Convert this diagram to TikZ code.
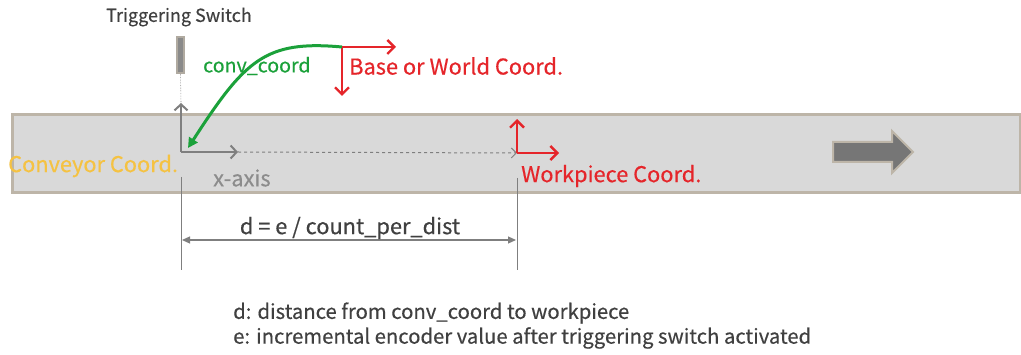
\documentclass[tikz,border=0pt]{standalone}
\usepackage{fontspec}
\newfontfamily\ssf[FakeBold=0.4]{Noto Sans CJK SC}
\usetikzlibrary{arrows.meta}
\definecolor{convfill}{HTML}{D9D9D9}
\definecolor{convborder}{HTML}{BDB5A8}
\definecolor{axgray}{HTML}{7F7F7F}
\definecolor{txtgray}{HTML}{404040}
\definecolor{lblgray}{HTML}{8C8C8C}
\definecolor{cred}{HTML}{E5252A}
\definecolor{cgreen}{HTML}{1BA13A}
\definecolor{cyell}{HTML}{F5C242}
\definecolor{swfill}{HTML}{8A8A8A}
\definecolor{swborder}{HTML}{B0AAA0}
\definecolor{bigarrow}{HTML}{767676}
\tikzset{
  lbl/.style={inner sep=0pt, font=\ssf\fontsize{21.8}{24}\selectfont},
  note/.style={inner sep=0pt, font=\ssf\fontsize{20.3}{24}\selectfont, text=txtgray, anchor=west},
  grayaxis/.style={draw=axgray, line width=2pt, -{Straight Barb[length=6pt,width=13pt]}},
  redaxis/.style={draw=cred, line width=2.4pt, -{Straight Barb[length=7pt,width=14pt]}},
  extline/.style={draw=axgray, line width=1pt},
}
\begin{document}
\begin{tikzpicture}[x=1pt,y=-1pt]
\useasboundingbox (0,0) rectangle (1021,355);
\fill[white] (0,0) rectangle (1021,355);
% conveyor
\node[draw=convborder, fill=convfill, line width=3pt, inner sep=0pt,
      minimum width=1008pt, minimum height=78pt] (conveyor) at (516,154) {};
% big direction arrow
\filldraw[fill=bigarrow, draw=convborder, line width=2pt]
  (833,142) -- (892,142) -- (892,131) -- (913,152) -- (892,173) -- (892,162) -- (833,162) -- cycle;
% switch
\node[inner sep=0pt, font=\ssf\fontsize{18}{20}\selectfont, text=txtgray] (trig) at (179,17) {Triggering Switch};
\node[draw=swborder, fill=swfill, line width=2pt, inner sep=0pt,
      minimum width=7pt, minimum height=36pt] (switch) at (180.5,55) {};
% coordinates
\coordinate (co) at (181,152);
\coordinate (coy) at (181,103);
\coordinate (cox) at (238,152);
\coordinate (wo) at (517,153);
\coordinate (woy) at (517,119);
\coordinate (wox) at (559,153);
\coordinate (bo) at (342,47);
\coordinate (box) at (396,47);
\coordinate (boy) at (342,96);
\draw[draw=lblgray, line width=0.6pt, densely dotted] (switch.south) -- (coy);
% conveyor axes
\draw[grayaxis] (co) -- (coy);
\draw[grayaxis] (co) -- (cox);
\draw[draw=axgray, line width=1pt, dashed, -{Straight Barb[length=5pt,width=10pt]}] (cox) -- (wo);
% workpiece axes
\draw[redaxis] (wo) -- (woy);
\draw[redaxis] (wo) -- (wox);
% base axes
\draw[redaxis] (bo) -- (box);
\draw[redaxis] (bo) -- (boy);
% green curve
\draw[draw=cgreen, line width=3pt, -{Triangle[length=10pt,width=10pt]}]
  (bo) .. controls (265,40) and (245,60) .. (188,148);
% labels
\node[inner sep=0pt, font=\ssf\fontsize{19.6}{22}\selectfont, text=cgreen, anchor=west] (convlbl) at (203,66) {conv\_coord};
\node[lbl, text=cred, anchor=west] (baselbl) at (349,66) {Base or World Coord.};
\node[lbl, text=cyell, anchor=west] (cclbl) at (8,166) {Conveyor Coord.};
\node[lbl, text=lblgray, anchor=west] (xlbl) at (213,178) {x-axis};
\node[lbl, text=cred, anchor=west] (wplbl) at (521,176) {Workpiece Coord.};
% dimension
\coordinate (e1t) at (181,177);
\coordinate (e1b) at (181,270);
\coordinate (e2t) at (517,178);
\coordinate (e2b) at (517,270);
\draw[extline] (e1t) -- (e1b);
\draw[extline] (e2t) -- (e2b);
\coordinate (d1) at (182,240);
\coordinate (d2) at (516,240);
\draw[draw=axgray, line width=1.2pt, {Triangle[length=8pt,width=7pt]}-{Triangle[length=8pt,width=7pt]}] (d1) -- (d2);
\node[lbl, text=txtgray] (dlbl) at (350,228) {d = e / count\_per\_dist};
% notes
\node[note] (note1) at (233,313) {d: distance from conv\_coord to workpiece};
\node[note] (note2) at (233,338) {e: incremental encoder value after triggering switch activated};
\end{tikzpicture}
\end{document}
